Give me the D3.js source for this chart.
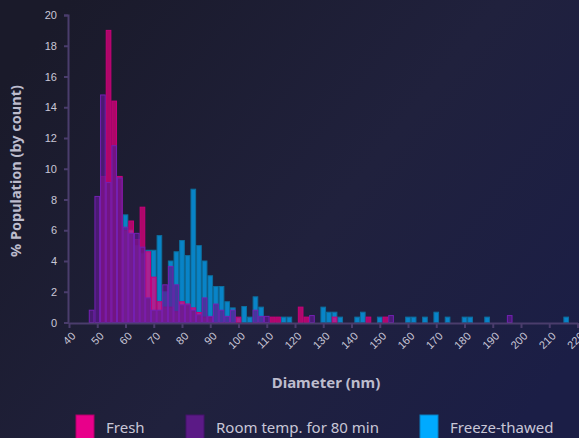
<!DOCTYPE html>
<html lang="en">
  <head>
    <meta charset="UTF-8" />
    <title>Diameter histogram</title>
    <style>
      html, body { margin: 0; padding: 0; background: #1c1c30; }
      svg { display: block; font-family: "Noto Sans", "Open Sans", sans-serif; }
    </style>
    <script src="https://d3js.org/d3.v7.min.js"></script>
  </head>
  <body>
    <svg width="579" height="438"></svg>
    <script>
      // bin centres (nm), 2 nm wide bins
      var centers = [48, 50, 52, 54, 56, 58, 60, 62, 64, 66, 68, 70, 72, 74, 76, 78, 80, 82, 84, 86,
        88, 90, 92, 94, 96, 98, 100, 102, 104, 106, 108, 110, 112, 114, 116, 118, 122, 124, 126,
        130, 132, 134, 136, 142, 144, 146, 150, 152, 154, 160, 162, 166, 170, 174, 180, 182, 188, 196, 216];
      var fresh = [0, 0, 9.5, 19.0, 14.4, 9.5, 6.0, 6.6, 5.4, 7.5, 4.6, 2.95, 1.35, 1.0, 1.0, 0.7, 1.35, 1.2, 0.95, 0.65,
        0.35, 0.35, 0, 0, 0, 0, 0.35, 0, 0, 0, 0, 0, 0.35, 0.35, 0, 0, 1.0, 0.35, 0,
        0, 0, 0.35, 0, 0, 0, 0.35, 0, 0.35, 0, 0, 0, 0, 0, 0, 0, 0, 0, 0, 0];
      var roomTemp = [0.8, 8.2, 14.8, 9.1, 11.5, 9.4, 6.2, 5.8, 5.8, 4.9, 1.6, 0.8, 0.8, 2.45, 3.65, 2.45, 1.15, 1.15, 0.8, 0.5,
        1.6, 0.4, 1.2, 0.8, 0.4, 0.8, 0, 0, 0, 0.8, 0.4, 0.4, 0, 0, 0, 0, 0, 0, 0.45,
        0, 0, 0, 0, 0, 0, 0, 0, 0, 0.45, 0, 0, 0, 0, 0, 0, 0, 0, 0.45, 0];
      var freezeThawed = [0, 0, 0, 0, 0, 0, 7.0, 6.0, 5.0, 4.5, 4.7, 4.7, 5.65, 2.0, 4.0, 4.6, 5.33, 4.35, 8.67, 5.0,
        4.0, 3.04, 2.34, 2.34, 1.35, 0.95, 0.3, 1.04, 0.35, 1.67, 1.0, 0, 0, 0, 0.35, 0.35, 0, 0, 0,
        1.0, 0.67, 0.67, 0.35, 0.35, 0.67, 0, 0.35, 0, 0, 0.35, 0.35, 0.35, 0.67, 0.35, 0.35, 0.35, 0.35, 0, 0.35];
      var xTicks = [40, 50, 60, 70, 80, 90, 100, 110, 120, 130, 140, 150, 160, 170, 180, 190, 200, 210, 220];
      var yTicks = [0, 2, 4, 6, 8, 10, 12, 14, 16, 18, 20];

      // back to front drawing order
      var series = [
        { name: "Freeze-thawed", values: freezeThawed, fill: "#00aaff", stroke: "#0d6f9e" },
        { name: "Fresh", values: fresh, fill: "#e6007e", stroke: "#c8007a" },
        { name: "Room temp. for 80 min", values: roomTemp, fill: "#5c1a8c", stroke: "#7420b4" }
      ];
      var legendItems = [
        { name: "Fresh", fill: "#e8008a", stroke: "#b00068", x: 76 },
        { name: "Room temp. for 80 min", fill: "#5b1a86", stroke: "#45126a", x: 186 },
        { name: "Freeze-thawed", fill: "#00aaff", stroke: "#0a7fbf", x: 420 }
      ];

      var svg = d3.select("svg");
      var width = +svg.attr("width");
      var height = +svg.attr("height");

      var defs = svg.append("defs");
      var grad = defs.append("linearGradient").attr("id", "bg")
        .attr("x1", "0%").attr("y1", "20%").attr("x2", "100%").attr("y2", "80%");
      grad.append("stop").attr("offset", "0%").attr("stop-color", "#1a1a2a");
      grad.append("stop").attr("offset", "55%").attr("stop-color", "#20213d");
      grad.append("stop").attr("offset", "100%").attr("stop-color", "#1b1e46");
      svg.append("rect").attr("width", width).attr("height", height).attr("fill", "url(#bg)");

      var x = d3.scaleLinear().domain([40, 220]).range([69, 577.5]);
      var y = d3.scaleLinear().domain([0, 20]).range([322.5, 15]);
      var binW = 2;

      // bars
      series.forEach(function (s) {
        svg.append("g")
          .selectAll("rect")
          .data(centers.map(function (c, i) { return [c, s.values[i]]; }).filter(function (d) { return d[1] > 0; }))
          .join("rect")
          .attr("x", function (d) { return x(d[0] - binW / 2) + 0.5; })
          .attr("width", function (d) { return x(d[0] + binW / 2) - x(d[0] - binW / 2) - 1; })
          .attr("y", function (d) { return y(d[1]); })
          .attr("height", function (d) { return y(0) - y(d[1]); })
          .attr("fill", s.fill)
          .attr("fill-opacity", 0.72)
          .attr("stroke", s.stroke)
          .attr("stroke-width", 1);
      });

      var axisColor = "#4a3d6c";
      var textColor = "#c9c7d7";

      // y axis
      var yAxis = svg.append("g")
        .attr("transform", "translate(68,0)")
        .call(d3.axisLeft(y).tickValues(yTicks).tickSize(4).tickPadding(7));
      yAxis.select(".domain").attr("stroke", axisColor).attr("stroke-width", 2);
      yAxis.selectAll(".tick line").attr("stroke", axisColor).attr("stroke-width", 2);
      yAxis.selectAll(".tick text").attr("fill", textColor).style("font-size", "11px");

      // x axis
      var xAxis = svg.append("g")
        .attr("transform", "translate(0,323)")
        .call(d3.axisBottom(x).tickValues(xTicks).tickSize(5).tickSizeOuter(0));
      xAxis.select(".domain").attr("stroke", axisColor).attr("stroke-width", 2);
      xAxis.selectAll(".tick line").attr("stroke", axisColor).attr("stroke-width", 2);
      xAxis.selectAll(".tick text")
        .attr("fill", textColor)
        .style("font-size", "11px")
        .attr("text-anchor", "end")
        .attr("x", 0)
        .attr("y", 0)
        .attr("dy", "0.35em")
        .attr("transform", "translate(4,11) rotate(-45)");

      // axis titles
      svg.append("text")
        .attr("transform", "translate(21,171) rotate(-90)")
        .attr("text-anchor", "middle")
        .attr("fill", "#bdbccd")
        .style("font-size", "14.5px")
        .style("font-weight", "bold")
        .text("% Population (by count)");

      svg.append("text")
        .attr("x", 326)
        .attr("y", 388)
        .attr("text-anchor", "middle")
        .attr("fill", "#bdbccd")
        .style("font-size", "15px")
        .style("font-weight", "bold")
        .text("Diameter (nm)");

      // legend
      var legend = svg.append("g")
        .selectAll("g")
        .data(legendItems)
        .join("g")
        .attr("transform", function (d) { return "translate(" + d.x + ",415)"; });
      legend.append("rect")
        .attr("width", 18)
        .attr("height", 26)
        .attr("fill", function (d) { return d.fill; })
        .attr("stroke", function (d) { return d.stroke; })
        .attr("stroke-width", 1);
      legend.append("text")
        .attr("x", 30)
        .attr("y", 18)
        .attr("fill", textColor)
        .style("font-size", "15px")
        .text(function (d) { return d.name; });
    </script>
  </body>
</html>
